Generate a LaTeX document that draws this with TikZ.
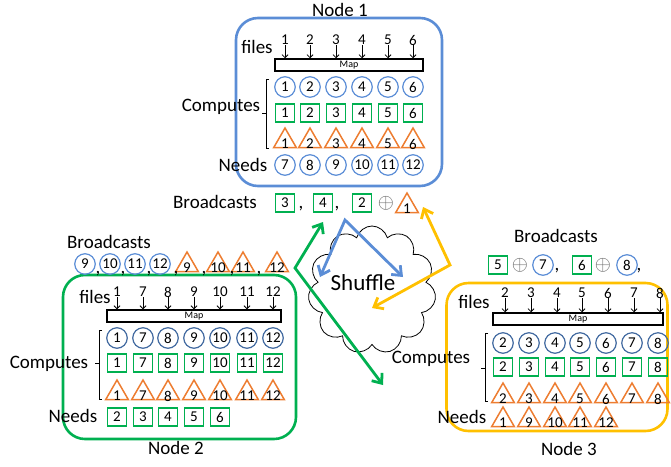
\documentclass[tikz,border=0pt]{standalone}
\usepackage{fontspec}
\setmainfont{Carlito}
\usetikzlibrary{shapes.geometric,shapes.symbols,arrows.meta}
\definecolor{nodeblue}{RGB}{91,141,214}
\definecolor{darkblue}{RGB}{65,105,160}
\definecolor{nodegreen}{RGB}{0,176,80}
\definecolor{nodeorange}{RGB}{237,125,49}
\definecolor{nodeyellow}{RGB}{255,192,0}
\tikzset{
  txt/.style={font=\fontsize{19}{22}\selectfont, inner sep=0},
  num/.style={font=\fontsize{15}{17}\selectfont, inner sep=0},
  circ/.style={num, circle, draw=#1, line width=1.2, minimum size=20.5},
  circ/.default=darkblue,
  sq/.style={num, rectangle, draw=nodegreen, line width=1.5, minimum width=19, minimum height=18},
  tri/.style={regular polygon, regular polygon sides=3, draw=nodeorange, line width=1.5, minimum size=26, inner sep=0, label={[num, yshift=-3]center:#1}},
  mapbar/.style={draw, line width=1.5, minimum height=12, inner sep=0, font=\fontsize{10}{10}\selectfont},
  nodebox/.style={draw=#1, line width=2.6, rounded corners=22, inner sep=0},
  fileline/.style={-{Straight Barb[length=3pt,width=6pt]}, line width=0.8},
  xorsign/.style={font=\fontsize{21}{24}\selectfont, inner sep=0, text=black!60},
  shufarrow/.style={draw=#1, line width=2.8, {Straight Barb[length=8pt,width=13pt]}-{Straight Barb[length=8pt,width=13pt]}},
  brack/.style={line width=0.8}
}
\begin{document}
\begin{tikzpicture}[x=1pt, y=-1pt]
  \useasboundingbox (0,0) rectangle (671,466);

  \node[nodebox=nodeblue, minimum width=206, minimum height=168] (box1) at (339,102) {};
  \node[txt] (name1) at (340,10) {Node 1};
  \node[txt] (files1) at (257,47) {files};
  \node[mapbar, minimum width=148] (map1) at (349,65) {Map};
  \foreach \x/\n [count=\i] in {285/1,310/2,336/3,362/4,388/5,413/6} {
    \node[num] (a\i) at (\x,40) {\n};
    \draw[fileline] (a\i) -- (a\i |- map1.north);
    \node[circ=nodeblue] (ac\i) at (\x,87) {\n};
    \node[sq] (as\i) at (\x,113) {\n};
    \node[tri=\n] (at\i) at (\x,141) {};
  }
  \foreach \x/\n [count=\i] in {285/7,310/8,336/9,362/10,388/11,413/12}
    \node[circ=nodeblue] (an\i) at (\x,165) {\n};
  \node[txt] (comp1) at (221,107) {Computes};
  \node[txt] (need1) at (243,165) {Needs};
  \draw[brack] (269,79) -- (266,79) -- (266,148) -- (269,148) (266,113) -- (262,113);

  \node[txt] (bc1) at (215,202) {Broadcasts};
  \node[sq] (b1a) at (285,203) {3};
  \node[txt] (k1a) at (301,209) {,};
  \node[sq] (b1b) at (323,203) {4};
  \node[txt] (k1b) at (337,209) {,};
  \node[sq] (b1c) at (362,203) {2};
  \node[xorsign] (x1) at (386,203) {$\oplus$};
  \node[tri=1] (b1d) at (407,206) {};

  \node[nodebox=nodegreen, minimum width=233, minimum height=164] (box2) at (179.5,357) {};
  \node[txt] (name2) at (176,448) {Node 2};
  \node[txt] (files2) at (95,297) {files};
  \node[mapbar, minimum width=174] (map2) at (194,316) {Map};
  \foreach \x/\n [count=\i] in {117/1,143/7,168/8,194/9,220/10,247/11,273/12} {
    \node[num] (c\i) at (\x,292) {\n};
    \draw[fileline] (c\i) -- (c\i |- map2.north);
    \node[circ] (cc\i) at (\x,338) {\n};
    \node[sq] (cs\i) at (\x,363) {\n};
    \node[tri=\n] (ct\i) at (\x,393) {};
  }
  \foreach \x/\n [count=\i] in {117/2,143/3,168/4,194/5,220/6}
    \node[sq] (cn\i) at (\x,417) {\n};
  \node[txt] (comp2) at (49,364) {Computes};
  \node[txt] (need2) at (73,416) {Needs};
  \draw[brack] (102,330) -- (99,330) -- (99,399) -- (102,399) (99,363) -- (95,363);

  \node[txt] (bc2) at (109,242) {Broadcasts};
  \foreach \x/\n [count=\i] in {85/9,110/10,135/11,160/12}
    \node[circ=nodeblue] (b2c\i) at (\x,264) {\n};
  \foreach \x/\n [count=\i] in {187/9,218/10,243/11,277/12}
    \node[tri=\n] (b2t\i) at (\x,265) {};
  \foreach \x [count=\i] in {98,123,149,176,204,232,259}
    \node[txt] (k2\i) at (\x,274) {,};

  \node[nodebox=nodeyellow, minimum width=221, minimum height=148] (box3) at (557,357) {};
  \node[txt] (name3) at (569,449) {Node 3};
  \node[txt] (files3) at (474,302) {files};
  \node[mapbar, minimum width=170] (map3) at (578,319) {Map};
  \foreach \x/\n [count=\i] in {503/2,529/3,555/4,580/5,606/6,632/7,658/8} {
    \node[num] (e\i) at ([xshift=2]\x,293) {\n};
    \draw[fileline] (e\i) -- (e\i |- map3.north);
    \node[circ] (ec\i) at (\x,343) {\n};
    \node[sq] (es\i) at (\x,367) {\n};
    \node[tri=\n] (et\i) at (\x,396) {};
  }
  \foreach \x/\n [count=\i] in {503/1,529/9,555/10,580/11,606/12}
    \node[tri=\n] (en\i) at (\x,420) {};
  \node[txt] (comp3) at (431,359) {Computes};
  \node[txt] (need3) at (462,417) {Needs};
  \draw[brack] (488,333) -- (485,333) -- (485,401) -- (488,401) (485,368) -- (481,368);

  \node[txt] (bc3) at (556,236) {Broadcasts};
  \node[sq] (b3a) at (498,265) {5};
  \node[xorsign] (x3a) at (520,265) {$\oplus$};
  \node[circ=nodeblue] (b3b) at (543,265) {7};
  \node[txt] (k3a) at (557,271) {,};
  \node[sq] (b3c) at (582,265) {6};
  \node[xorsign] (x3b) at (603,265) {$\oplus$};
  \node[circ=nodeblue] (b3d) at (627,265) {8};
  \node[txt] (k3b) at (639,271) {,};

  \node[cloud, draw, cloud puffs=11, aspect=1, minimum width=128, minimum height=128, line width=0.8] (cloud) at (372,290) {};
  \node[font=\fontsize{23}{26}\selectfont, inner sep=0] (shuf) at (363,283) {Shuffle};

  \coordinate (g0) at (295,268);
  \coordinate (g1) at (323,222);
  \coordinate (g2) at (383,385);
  \coordinate (u0) at (345,220);
  \coordinate (u1) at (320,277);
  \coordinate (u2) at (403,277);
  \coordinate (y0) at (450,265);
  \coordinate (y1) at (423,207);
  \coordinate (y2) at (372,308);
  \draw[shufarrow=nodegreen] (g1) -- (g0) -- (g2);
  \draw[shufarrow=nodeblue] (u1) -- (u0) -- (u2);
  \draw[shufarrow=nodeyellow] (y1) -- (y0) -- (y2);
\end{tikzpicture}
\end{document}
